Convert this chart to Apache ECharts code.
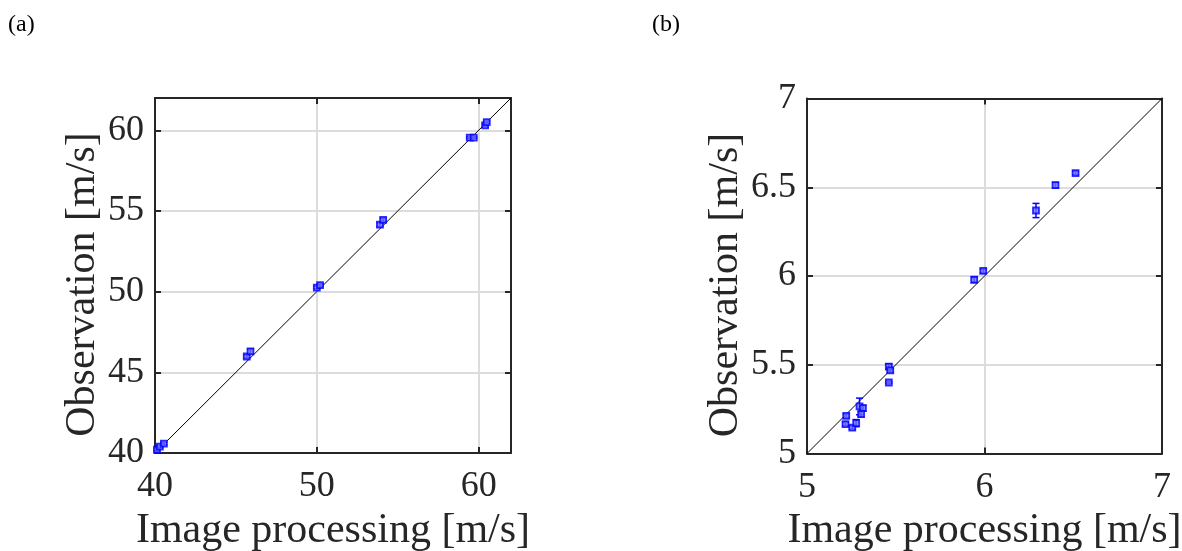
<!DOCTYPE html>
<html>
<head>
<meta charset="utf-8">
<script src="https://cdn.jsdelivr.net/npm/echarts@6/dist/echarts.min.js"></script>
<style>
html,body{margin:0;padding:0;background:#fff;}
#chart{width:1182px;height:551px;}
</style>
</head>
<body>
<div id="chart"></div>
<script>
// ---- Panel (a) data ----
const aX   = [40.12, 40.3, 40.55, 45.67, 45.9, 50.0, 50.2, 53.9, 54.1, 59.45, 59.7, 60.4, 60.5];
const aY   = [40.2, 40.4, 40.58, 45.98, 46.3, 50.25, 50.4, 54.15, 54.45, 59.55, 59.55, 60.3, 60.5];
const aErr = [0.08, 0.08, 0.08, 0.1, 0.15, 0.08, 0.08, 0.12, 0.1, 0.05, 0.05, 0.08, 0.08];
const aTicksX = [40, 50, 60];
const aTicksY = [40, 45, 50, 55, 60];
const aRange = [40, 62];

// ---- Panel (b) data ----
const bX   = [6.513, 6.40, 6.29, 5.993, 5.942, 5.461, 5.469, 5.461, 5.296, 5.315, 5.305, 5.221, 5.217, 5.255, 5.277];
const bY   = [6.580, 6.512, 6.369, 6.029, 5.979, 5.49, 5.468, 5.40, 5.265, 5.256, 5.222, 5.212, 5.166, 5.146, 5.171];
const bErr = [0.01, 0.015, 0.04, 0.01, 0.015, 0.015, 0.01, 0.005, 0.047, 0.015, 0.015, 0.01, 0.01, 0.01, 0.02];
const bTicksX = [5, 6, 7];
const bTicksY = [5, 5.5, 6, 6.5, 7];
const bRange = [5, 7];

const panelLabels = ['(a)', '(b)'];
const xName = 'Image processing [m/s]';
const yName = 'Observation [m/s]';

const FONT = "'Liberation Serif','Times New Roman',serif";
const AX = '#262626';
const BLUE = '#0000ff';

function pts(xs, ys, es) { return xs.map((x, i) => [x, ys[i], es[i]]); }

function axisPair(gridIndex, ticks, range, isX, nameGap, namePad) {
  const base = {
    gridIndex: gridIndex,
    type: 'value',
    min: range[0], max: range[1],
    interval: ticks[1] - ticks[0],
    axisLine: {show: true, onZero: false, lineStyle: {color: AX, width: 2}},
    axisTick: {show: true, inside: true, length: 6, lineStyle: {color: AX, width: 2}},
  };
  const main = Object.assign({}, base, {
    position: isX ? 'bottom' : 'left',
    name: isX ? xName : yName,
    nameLocation: 'middle',
    nameGap: nameGap,
    nameTextStyle: {fontFamily: FONT, fontSize: 42, color: AX, padding: namePad},
    axisLabel: {
      show: true, margin: isX ? 16 : 11, fontFamily: FONT, fontSize: 36, color: AX,
      formatter: v => ticks.some(t => Math.abs(t - v) < 1e-9) ? String(v) : ''
    },
    splitLine: {show: true, lineStyle: {color: '#dcdcdc', width: 2}},
  });
  const opp = Object.assign({}, base, {
    position: isX ? 'top' : 'right',
    axisLabel: {show: false},
    splitLine: {show: false},
  });
  return [main, opp];
}

const grids = [
  {left: 155, top: 98, width: 356, height: 355, containLabel: false, outerBoundsMode: 'none'},
  {left: 807, top: 98.5, width: 355, height: 355, containLabel: false, outerBoundsMode: 'none'},
];

const xAxes = [].concat(
  axisPair(0, aTicksX, aRange, true, 56, 0),
  axisPair(1, bTicksX, bRange, true, 56, 0)
);
const yAxes = [].concat(
  axisPair(0, aTicksY, aRange, false, 44, [0, 18, 0, 0]),
  axisPair(1, bTicksY, bRange, false, 54, [0, 18, 0, 0])
);

function errSeries(xi, yi, data) {
  return {
    type: 'custom', xAxisIndex: xi, yAxisIndex: yi, z: 3,
    data: data,
    renderItem: function (params, api) {
      const x = api.value(0), y = api.value(1), e = api.value(2);
      const lo = api.coord([x, y - e]);
      const hi = api.coord([x, y + e]);
      const w = 3.5;
      const st = {stroke: BLUE, lineWidth: 1.5};
      return {
        type: 'group',
        children: [
          {type: 'line', shape: {x1: lo[0], y1: lo[1], x2: hi[0], y2: hi[1]}, style: st},
          {type: 'line', shape: {x1: lo[0] - w, y1: lo[1], x2: lo[0] + w, y2: lo[1]}, style: st},
          {type: 'line', shape: {x1: hi[0] - w, y1: hi[1], x2: hi[0] + w, y2: hi[1]}, style: st},
        ]
      };
    }
  };
}

function pointSeries(xi, yi, data) {
  return {
    type: 'scatter', xAxisIndex: xi, yAxisIndex: yi, z: 4,
    symbol: 'rect', symbolSize: 6,
    data: data.map(d => [d[0], d[1]]),
    itemStyle: {color: '#7070ff', borderColor: BLUE, borderWidth: 1.8},
    emphasis: {disabled: true}
  };
}

function refLine(xi, yi, range) {
  return {
    type: 'line', xAxisIndex: xi, yAxisIndex: yi, z: 2,
    data: [[range[0], range[0]], [range[1], range[1]]],
    symbol: 'none', lineStyle: {color: '#000', width: 1}, silent: true
  };
}

const aData = pts(aX, aY, aErr);
const bData = pts(bX, bY, bErr);

const chart = echarts.init(document.getElementById('chart'), null, {renderer: 'canvas'});
chart.setOption({
  animation: false,
  backgroundColor: '#fff',
  grid: grids,
  xAxis: xAxes,
  yAxis: yAxes,
  graphic: [
    {type: 'text', left: 8, top: 13, style: {text: panelLabels[0], font: '24px ' + FONT, fill: '#000'}},
    {type: 'text', left: 652, top: 13, style: {text: panelLabels[1], font: '24px ' + FONT, fill: '#000'}},
  ],
  series: [
    refLine(0, 0, aRange),
    errSeries(0, 0, aData),
    pointSeries(0, 0, aData),
    refLine(2, 2, bRange),
    errSeries(2, 2, bData),
    pointSeries(2, 2, bData),
  ]
});
</script>
</body>
</html>
